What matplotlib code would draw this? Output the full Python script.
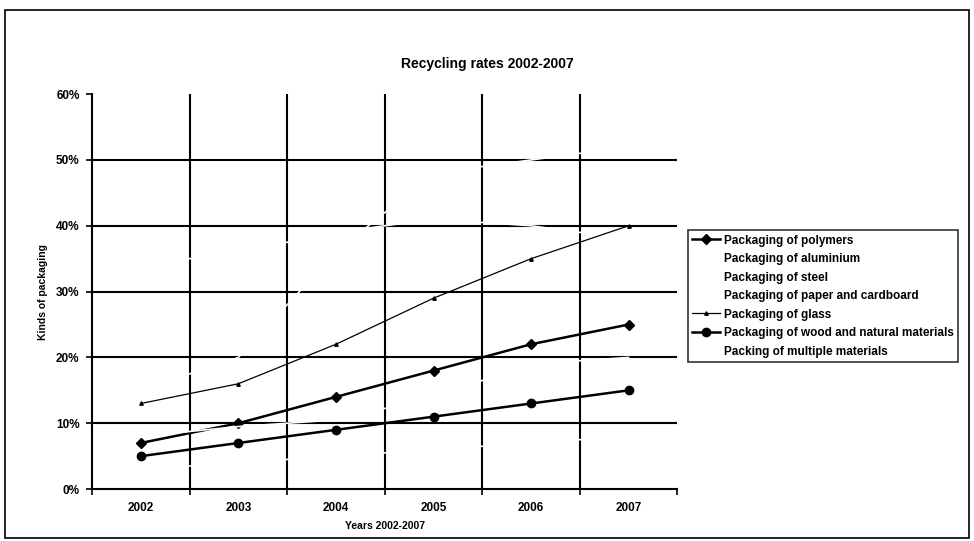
import matplotlib.pyplot as plt
import numpy as np
from matplotlib.patches import Rectangle
from matplotlib.ticker import PercentFormatter

plt.rcParams['font.family'] = ['Liberation Sans', 'DejaVu Sans']
plt.rcParams['font.weight'] = 'bold'
plt.rcParams['axes.labelweight'] = 'bold'

years = ['2002', '2003', '2004', '2005', '2006', '2007']

# recycling rates in percent
polymers = [7, 10, 14, 18, 22, 25]
aluminium = [15, 20, 36, 48, 50, 52]
steel = [8, 9.5, 10.5, 14, 19, 20]
paper = [34, 36, 39, 41, 40, 38]
glass = [13, 16, 22, 29, 35, 40]
wood = [5, 7, 9, 11, 13, 15]
multiple = [3, 4, 5, 6, 7, 8]

series = [
    ('Packaging of polymers', polymers, dict(color='black', lw=1.8, marker='D', ms=5)),
    ('Packaging of aluminium', aluminium, dict(color='white', lw=1.2)),
    ('Packaging of steel', steel, dict(color='white', lw=1.2)),
    ('Packaging of paper and cardboard', paper, dict(color='white', lw=1.2)),
    ('Packaging of glass', glass, dict(color='black', lw=0.9, marker='^', ms=2.5)),
    ('Packaging of wood and natural materials', wood, dict(color='black', lw=1.8, marker='o', ms=6)),
    ('Packing of multiple materials', multiple, dict(color='white', lw=1.2)),
]

fig = plt.figure(figsize=(9.74, 5.41), dpi=100)
ax = fig.add_axes([0.0945, 0.096, 0.601, 0.730])

# outer chart border
fig.patches.append(Rectangle((0.005, 0.006), 0.99, 0.975, transform=fig.transFigure,
                             fill=False, edgecolor='black', lw=1.2))

x = np.arange(len(years))

# horizontal and vertical grid
for v in [10, 20, 30, 40, 50]:
    ax.axhline(v, color='black', lw=1.5, zorder=1)
for b in x[:-1] + 0.5:
    ax.axvline(b, color='black', lw=1.5, zorder=1)

for label, vals, style in series:
    ax.plot(x, vals, label=label, zorder=3, **style)

ax.set_xlim(-0.5, len(years) - 0.5)
ax.set_ylim(0, 60)
ax.set_yticks(np.arange(0, 61, 10))
ax.yaxis.set_major_formatter(PercentFormatter(decimals=0))
ax.set_xticks(x)
ax.set_xticklabels(years)
ax.set_xticks(np.arange(-0.5, len(years)), minor=True)
ax.tick_params(axis='x', which='major', length=0, pad=9, labelsize=8.5)
ax.tick_params(axis='x', which='minor', length=4, width=1.2, direction='out')
ax.tick_params(axis='y', length=4, width=1.2, direction='out', labelsize=8.5, pad=5)

for side in ['top', 'right']:
    ax.spines[side].set_visible(False)
for side in ['left', 'bottom']:
    ax.spines[side].set_linewidth(1.5)

ax.set_xlabel('Years 2002-2007', fontsize=7.5, labelpad=5)
ax.set_ylabel('Kinds of packaging', fontsize=7.5, labelpad=6)
fig.text(0.5, 0.882, 'Recycling rates 2002-2007', ha='center', va='center',
         fontsize=10, fontweight='bold')

leg = fig.legend(loc='upper left', bbox_to_anchor=(0.700, 0.585), fontsize=8.5,
                 frameon=True, fancybox=False, edgecolor='black', handlelength=2.4,
                 handletextpad=0.3, labelspacing=0.55, borderpad=0.35)
leg.get_frame().set_linewidth(1.2)

fig.savefig('out.png', dpi=100)
